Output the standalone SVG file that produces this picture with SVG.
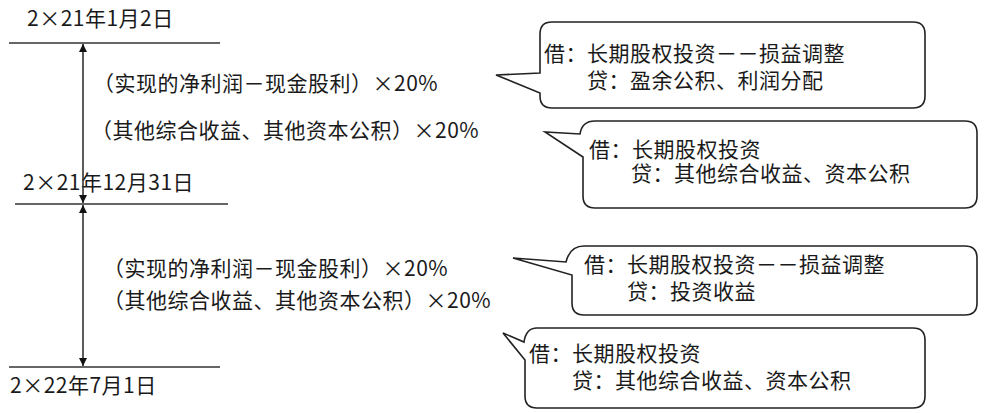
<svg xmlns="http://www.w3.org/2000/svg" width="990" height="413" viewBox="0 0 990 413">
<defs>
<marker id="ah" viewBox="0 0 10 10" refX="10" refY="5" markerWidth="9" markerHeight="8" markerUnits="userSpaceOnUse" orient="auto-start-reverse">
<path d="M0,0 L10,5 L0,10 Z" fill="#111"/>
</marker>
<style>
text{font-family:"Noto Sans CJK SC","Noto Sans",sans-serif;font-size:21px;fill:#1a1a1a;letter-spacing:0.5px}
.tl{stroke:#333;stroke-width:1.6;fill:none}
.co{fill:#fff;stroke:#222;stroke-width:1.6}
</style>
</defs>
<rect width="990" height="413" fill="#fff"/>
<g id="timeline">
<line class="tl" x1="9" y1="43" x2="220" y2="43"/>
<line class="tl" x1="15" y1="204" x2="228" y2="204"/>
<line class="tl" x1="9" y1="367" x2="220" y2="367"/>
<text x="27" y="26">2×21年1月2日</text>
<text x="23" y="190">2×21年12月31日</text>
<text x="10" y="393">2×22年7月1日</text>
</g>
<g id="connectors">
<line class="tl" x1="83" y1="44" x2="83" y2="203" marker-start="url(#ah)" marker-end="url(#ah)"/>
<line class="tl" x1="83" y1="205" x2="83" y2="366" marker-start="url(#ah)" marker-end="url(#ah)"/>
</g>
<g id="labels1">
<text x="93" y="91">（实现的净利润－现金股利）×20%</text>
<text x="91" y="138">（其他综合收益、其他资本公积）×20%</text>
</g>
<g id="labels2">
<text x="103" y="276">（实现的净利润－现金股利）×20%</text>
<text x="103" y="308">（其他综合收益、其他资本公积）×20%</text>
</g>
<g id="callout1">
<path class="co" d="M552 22 H913 Q925 22 925 34 V96 Q925 108 913 108 H552 Q540 108 540 96 V93 L496 75 L540 73 V34 Q540 22 552 22 Z"/>
<text x="544" y="61">借：长期股权投资－－损益调整</text>
<text x="587" y="88">贷：盈余公积、利润分配</text>
</g>
<g id="callout2">
<path class="co" d="M595 121 H965 Q977 121 977 133 V196 Q977 208 965 208 H595 Q583 208 583 196 V157 L545 132 L580 134 Q582 121 595 121 Z"/>
<text x="589" y="157">借：长期股权投资</text>
<text x="631" y="181">贷：其他综合收益、资本公积</text>
</g>
<g id="callout3">
<path class="co" d="M584 246 H965 Q977 246 977 258 V303 Q977 315 965 315 H584 Q572 315 572 303 V275 L513 258 L566 262 Q570 246 584 246 Z"/>
<text x="584" y="272">借：长期股权投资－－损益调整</text>
<text x="627" y="299">贷：投资收益</text>
</g>
<g id="callout4">
<path class="co" d="M537 328 H913 Q925 328 925 340 V396 Q925 408 913 408 H537 Q525 408 525 396 V360 L503 333 L524 342 Q526 328 537 328 Z"/>
<text x="529" y="361">借：长期股权投资</text>
<text x="572" y="388">贷：其他综合收益、资本公积</text>
</g>
</svg>
